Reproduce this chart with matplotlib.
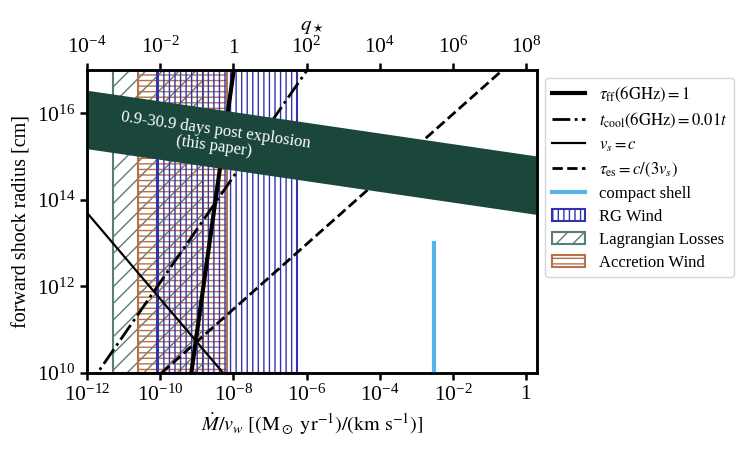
import numpy as np
import matplotlib
matplotlib.use("Agg")
import matplotlib.pyplot as plt
from matplotlib.lines import Line2D
from matplotlib.patches import Patch

plt.rcParams['font.family'] = 'serif'
plt.rcParams['font.serif'] = ['Liberation Serif', 'DejaVu Serif']
plt.rcParams['mathtext.fontset'] = 'stix'
plt.rcParams['axes.formatter.min_exponent'] = 1

# --- data (x = Mdot/v_w, y = forward shock radius) ---
# straight lines in log-log space, given by their end points
tau_ff_x = [10**-9.15, 10**-7.99]
tau_ff_y = [1e10, 1e17]
tcool_x = [1e-12, 10**-5.98]
tcool_y = [10**9.65, 1e17]
vs_c_x = [1e-12, 10**-8.28]
vs_c_y = [10**13.70, 1e10]
tau_es_x = [10**-9.96, 10**-0.64]
tau_es_y = [1e10, 1e17]

# compact shell
shell_x = 3.0e-3
shell_y = [1e10, 1e13]

# band covered by this paper's observations
band_x = [1e-12, 2.0]
band_top = [10**16.53, 10**15.01]
band_bot = [10**15.18, 10**13.66]
band_text = "0.9-30.9 days post explosion\n(this paper)"
band_text_xy = (10**-8.5, 10**15.42)

# hatched regions (x ranges)
rg_wind = [8.3e-11, 5.5e-7]
lagrangian = [5.1e-12, 1.5e-9]
accretion = [2.5e-11, 6.5e-9]

xlim = (1e-12, 2.0)
ylim = (1e10, 1e17)
q_factor = 1e8   # q_star = (Mdot/v_w) * 1e8
xticks = [1e-12, 1e-10, 1e-8, 1e-6, 1e-4, 1e-2, 1]
yticks = [1e10, 1e12, 1e14, 1e16]
qticks = [1e-4, 1e-2, 1, 1e2, 1e4, 1e6, 1e8]

c_rg = '#3434aa'
c_lag = '#5a7d79'
c_acc = '#b5714a'
c_band = '#1a463c'
c_shell = '#56b4e9'

fig = plt.figure(figsize=(7.47, 4.57), dpi=100)
ax = fig.add_axes([0.1165, 0.184, 0.6025, 0.663])
ax.set_xscale('log')
ax.set_yscale('log')

# hatched regions
ax.axvspan(*lagrangian, facecolor='none', edgecolor=c_lag, hatch='//', lw=1.5, zorder=1)
ax.axvspan(*accretion, facecolor='none', edgecolor=c_acc, hatch='---', lw=1.5, zorder=1)
ax.axvspan(*rg_wind, facecolor='none', edgecolor=c_rg, hatch='|||', lw=1.5, zorder=1)

# lines
ax.plot(tau_ff_x, tau_ff_y, color='k', lw=3, zorder=3)
ax.plot(tcool_x, tcool_y, color='k', lw=2, ls='-.', zorder=3)
ax.plot(vs_c_x, vs_c_y, color='k', lw=1.6, zorder=3)
ax.plot(tau_es_x, tau_es_y, color='k', lw=2, ls='--', zorder=3)
ax.plot([shell_x, shell_x], shell_y, color=c_shell, lw=3, zorder=3)

# observed band
ax.fill_between(band_x, band_bot, band_top, color=c_band, lw=0, zorder=4)
ax.text(*band_text_xy, band_text, color='white', fontsize=12, rotation=-8.0,
        ha='center', va='center', linespacing=1.0, zorder=5)

ax.set_xlim(*xlim)
ax.set_ylim(*ylim)
ax.set_xticks(xticks)
ax.set_yticks(yticks)
ax.minorticks_off()
ax.tick_params(direction='out', length=5, width=1.8, labelsize=15.5)
for s in ax.spines.values():
    s.set_linewidth(1.8)
ax.set_xlabel(r'$\dot{M}/v_w\ [({\rm M}_\odot\ {\rm yr}^{-1})/({\rm km\ s}^{-1})]$', fontsize=14.5)
ax.set_ylabel('forward shock radius [cm]', fontsize=14.5)

# top axis: q_star
ax2 = ax.twiny()
ax2.set_xscale('log')
ax2.set_xlim(xlim[0] * q_factor, xlim[1] * q_factor)
ax2.set_xticks(qticks)
ax2.minorticks_off()
ax2.tick_params(direction='out', length=5, width=1.8, labelsize=15.5)
for s in ax2.spines.values():
    s.set_linewidth(1.8)
ax2.set_xlabel(r'$q_\star$', fontsize=15, labelpad=5)

handles = [
    Line2D([], [], color='k', lw=3),
    Line2D([], [], color='k', lw=2, ls='-.'),
    Line2D([], [], color='k', lw=1.6),
    Line2D([], [], color='k', lw=2, ls='--'),
    Line2D([], [], color=c_shell, lw=3),
    Patch(facecolor='none', edgecolor=c_rg, hatch='|||', lw=1.5),
    Patch(facecolor='none', edgecolor=c_lag, hatch='//', lw=1.5),
    Patch(facecolor='none', edgecolor=c_acc, hatch='---', lw=1.5),
]
labels = [
    r'$\tau_{\rm ff}(6{\rm GHz})=1$',
    r'$t_{\rm cool}(6{\rm GHz})=0.01t$',
    r'$v_s=c$',
    r'$\tau_{\rm es}=c/(3v_s)$',
    'compact shell',
    'RG Wind',
    'Lagrangian Losses',
    'Accretion Wind',
]
ax.legend(handles, labels, loc='upper left', bbox_to_anchor=(1.0, 1.0),
          fontsize=12, labelspacing=0.42, handlelength=2.0)

fig.savefig('out.png', dpi=100)
